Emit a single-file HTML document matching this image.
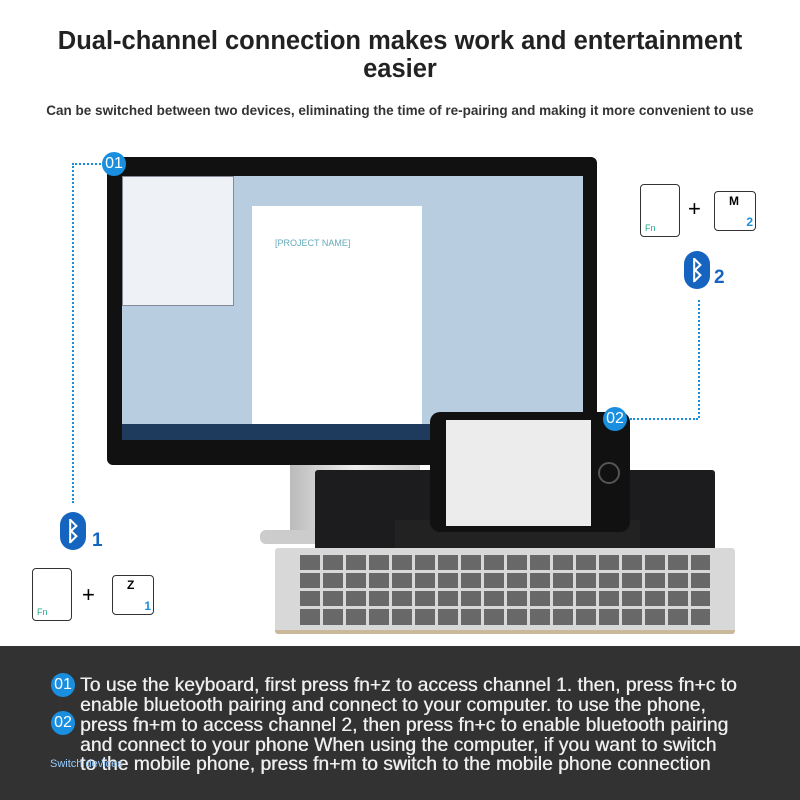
<!DOCTYPE html>
<html><head><style>
body{margin:0;width:800px;height:800px;background:#fff;position:relative;overflow:hidden;font-family:"Liberation Sans",sans-serif}
.a{position:absolute}
.key{position:absolute;border:1.5px solid #333;border-radius:4px;background:#fff}
.circ{position:absolute;width:24px;height:24px;border-radius:50%;background:#1a8fe0;color:#fff;font-size:16px;text-align:center;line-height:24px}
.bt{position:absolute;width:26px;height:38px;border-radius:13px;background:#1565c0;color:#fff;text-align:center;font-size:26px;line-height:38px;font-weight:bold}
.ln{position:absolute;left:80px;white-space:nowrap;font-size:19.5px;color:#eee;transform:scaleX(0.99);transform-origin:0 0;text-shadow:0.4px 0 0 #eee}
</style></head><body>
<div class="a" style="top:27px;width:800px;text-align:center;font-size:25.5px;font-weight:bold;color:#222;line-height:28px">Dual-channel connection makes work and entertainment<br>easier</div>
<div class="a" style="top:103px;width:800px;text-align:center;font-size:13.5px;font-weight:bold;color:#333">Can be switched between two devices, eliminating the time of re-pairing and making it more convenient to use</div>

<div class="a" style="left:72px;top:163px;width:32px;border-top:2px dotted #1a8fe0"></div>
<div class="a" style="left:72px;top:163px;height:340px;border-left:2px dotted #1a8fe0"></div>
<div class="a" style="left:630px;top:418px;width:68px;border-top:2px dotted #1a8fe0"></div>
<div class="a" style="left:698px;top:300px;height:118px;border-left:2px dotted #1a8fe0"></div>

<div class="a" style="left:290px;top:462px;width:130px;height:78px;background:linear-gradient(90deg,#bbb,#eee,#ccc)"></div>
<div class="a" style="left:260px;top:530px;width:190px;height:14px;background:#ccc;border-radius:6px"></div>
<div class="a" style="left:107px;top:157px;width:490px;height:308px;background:#111;border-radius:6px"></div>
<div class="a" style="left:122px;top:176px;width:461px;height:264px;background:#b8cde0"></div>
<div class="a" style="left:252px;top:206px;width:170px;height:218px;background:#fff"></div>
<div class="a" style="left:122px;top:176px;width:110px;height:128px;background:#eef2f6;border:1px solid #889"></div>
<div class="a" style="left:122px;top:424px;width:461px;height:16px;background:#1e3a5c"></div>
<div class="a" style="left:275px;top:238px;font-size:9px;color:#6ab">[PROJECT NAME]</div>

<div class="a" style="left:315px;top:470px;width:400px;height:85px;background:#1c1c1e;border-radius:3px"></div>
<div class="a" style="left:275px;top:548px;width:460px;height:82px;background:#d8d8d8;border-radius:3px;border-bottom:4px solid #c9b89a"></div>
<div class="a" style="left:300px;top:555px;width:410px;height:70px;background:repeating-linear-gradient(90deg,#555 0 20px,#d8d8d8 20px 23px),#555;opacity:.85"></div>
<div class="a" style="left:300px;top:570px;width:410px;height:3px;background:#d8d8d8"></div>
<div class="a" style="left:300px;top:588px;width:410px;height:3px;background:#d8d8d8"></div>
<div class="a" style="left:300px;top:606px;width:410px;height:3px;background:#d8d8d8"></div>
<div class="a" style="left:395px;top:520px;width:245px;height:28px;background:#222"></div>
<div class="a" style="left:430px;top:412px;width:200px;height:120px;background:#111;border-radius:10px"></div>
<div class="a" style="left:446px;top:420px;width:145px;height:106px;background:#ececec"></div>
<div class="a" style="left:598px;top:462px;width:18px;height:18px;border-radius:50%;border:2px solid #555"></div>

<div class="circ" style="left:102px;top:152px">01</div>
<div class="circ" style="left:603px;top:407px">02</div>

<div class="key" style="left:640px;top:184px;width:38px;height:51px"><span class="a" style="left:4px;bottom:3px;font-size:9px;color:#2a8">Fn</span></div>
<div class="a" style="left:688px;top:196px;font-size:22px">+</div>
<div class="key" style="left:714px;top:191px;width:40px;height:38px"><span class="a" style="left:14px;top:2px;font-size:12px;font-weight:bold">M</span><span class="a" style="right:2px;bottom:1px;font-size:12px;color:#1a8fe0;font-weight:bold">2</span></div>
<div class="bt" style="left:684px;top:251px">&#x16D2;</div>
<div class="a" style="left:714px;top:267px;font-size:19px;font-weight:bold;color:#1565c0">2</div>
<div class="bt" style="left:60px;top:512px">&#x16D2;</div>
<div class="a" style="left:92px;top:530px;font-size:19px;font-weight:bold;color:#1565c0">1</div>
<div class="key" style="left:32px;top:568px;width:38px;height:51px"><span class="a" style="left:4px;bottom:3px;font-size:9px;color:#2a8">Fn</span></div>
<div class="a" style="left:82px;top:582px;font-size:22px">+</div>
<div class="key" style="left:112px;top:575px;width:40px;height:38px"><span class="a" style="left:14px;top:2px;font-size:12px;font-weight:bold">Z</span><span class="a" style="right:2px;bottom:1px;font-size:12px;color:#1a8fe0;font-weight:bold">1</span></div>

<div class="a" style="left:0;top:646px;width:800px;height:154px;background:#323232"></div>
<div class="circ" style="left:51px;top:673px">01</div>
<div class="circ" style="left:51px;top:711px">02</div>
<div class="ln" style="top:674px">To use the keyboard, first press fn+z to access channel 1. then, press fn+c to</div>
<div class="ln" style="top:694px">enable bluetooth pairing and connect to your computer. to use the phone,</div>
<div class="ln" style="top:714px">press fn+m to access channel 2, then press fn+c to enable bluetooth pairing</div>
<div class="ln" style="top:734px">and connect to your phone When using the computer, if you want to switch</div>
<div class="ln" style="top:753px">to the mobile phone, press fn+m to switch to the mobile phone connection</div>
<div class="a" style="left:50px;top:758px;font-size:11px;color:#9cf">Switch devices</div>
</body></html>
